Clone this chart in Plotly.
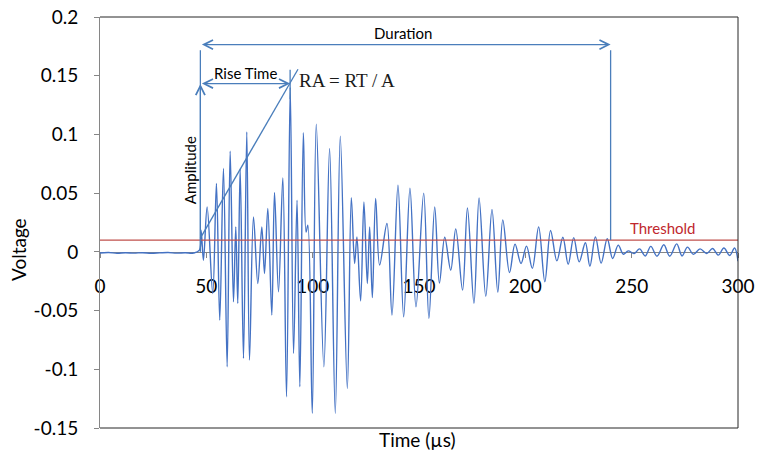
import plotly.graph_objects as go

# ---------------- data ----------------
pre_t = [0, 4, 8, 12, 16, 20, 24, 28, 32, 36, 40, 44]
pre_v = [-0.0010, -0.0006, -0.0012, -0.0008, -0.0011, -0.0007, -0.0012, -0.0009,
         -0.0006, -0.0011, -0.0008, -0.0010]

wave_t = [46.75, 47.55, 48.63, 50.38, 53.01, 54.75, 56.31, 58.05, 59.79, 61.20,
          62.76, 63.84, 64.78, 65.91, 67.47, 69.02, 70.29, 72.17, 74.20, 76.08,
          77.35, 78.91, 80.79, 82.06, 83.94, 85.97, 87.71, 89.45, 91.01, 92.65,
          93.97, 95.62, 96.89, 97.74, 99.81, 101.69, 105.27, 107.96, 110.64, 112.99,
          116.29, 118.17, 119.72, 120.81, 122.55, 124.10, 125.70, 126.79, 128.06, 129.61,
          131.49, 134.93, 137.29, 140.11, 142.79, 145.76, 148.58, 152.21, 154.66, 157.39,
          159.60, 162.10, 164.92, 167.28, 170.48, 172.78, 175.84, 178.25, 181.40, 184.32,
          187.05, 189.40, 192.56, 195.15, 197.97, 200.56, 203.29, 206.26, 209.18, 211.86,
          214.83, 217.65, 220.15, 222.74, 225.33, 228.24, 230.36, 232.95, 235.64, 238.51,
          241.05, 243.69, 246.04, 248.39, 251.17, 253.71, 256.40, 258.99, 261.91, 265.11,
          267.89, 271.18, 273.68, 276.26, 279.00, 282.15, 285.31, 288.04, 290.77, 293.35,
          296.13, 298.39, 300.0]
wave_v = [0.0014, 0.0185, -0.0071, 0.0383, -0.0354, 0.0582, -0.0581, 0.0710, -0.0979, 0.0857,
          -0.0426, 0.0213, -0.0439, 0.0710, -0.0907, 0.1021, -0.0922, 0.0298, -0.0269, 0.0213,
          -0.0184, 0.0369, -0.0539, 0.0506, -0.0340, 0.0630, -0.1234, 0.1400, -0.0865, 0.0440,
          -0.1149, 0.1014, 0.0168, 0.0227, -0.1375, 0.1087, -0.0979, 0.0880, -0.1375, 0.0985,
          -0.1163, 0.0461, -0.0099, 0.0128, -0.0418, 0.0426, -0.0269, 0.0213, -0.0390, 0.0454,
          -0.0113, 0.0242, -0.0539, 0.0568, -0.0553, 0.0542, -0.0468, 0.0500, -0.0567, 0.0383,
          -0.0266, 0.0125, -0.0156, 0.0196, -0.0326, 0.0374, -0.0439, 0.0460, -0.0379, 0.0362,
          -0.0343, 0.0272, -0.0177, 0.0066, -0.0099, 0.0049, -0.0141, 0.0213, -0.0255, 0.0182,
          -0.0077, 0.0125, -0.0106, 0.0121, -0.0085, 0.0077, -0.0122, 0.0128, -0.0096, 0.0111,
          -0.0056, 0.0057, -0.0020, 0.0008, -0.0014, 0.0025, -0.0035, 0.0047, -0.0037, 0.0060,
          -0.0037, 0.0068, -0.0035, 0.0040, -0.0021, 0.0025, -0.0014, 0.0029, -0.0028, 0.0033,
          -0.0031, 0.0033, -0.0079]

threshold = 0.01
first_crossing = 47.2      # µs
peak_time = 89.4           # µs
peak_amplitude = 0.143     # V
duration_end = 240.1       # µs

x_ticks = [0, 50, 100, 150, 200, 250, 300]
y_ticks = [0.2, 0.15, 0.1, 0.05, 0, -0.05, -0.1, -0.15]
y_tick_text = ["0.2", "0.15", "0.1", "0.05", "0", "-0.05", "-0.1", "-0.15"]

# ---------------- figure ----------------
FONT = "Lato"
BLUE = "#4472C4"
SHAPE_BLUE = "#4A7EBB"
GRAY = "#868686"

fig = go.Figure()
fig.add_trace(go.Scatter(
    x=pre_t + wave_t, y=pre_v + wave_v, mode="lines",
    line=dict(color=BLUE, width=1.4, shape="spline", smoothing=1.0),
    hoverinfo="skip", showlegend=False))

fig.add_trace(go.Scatter(
    x=[x_ticks[0], x_ticks[-1]], y=[threshold, threshold], mode="lines",
    line=dict(color="#C0504D", width=1.2), hoverinfo="skip", showlegend=False))

dur_y = 0.1765
rise_y = 0.1433
vtop = 0.1717

shapes = [
    dict(type="path", xref="paper", yref="paper", path="M 0 1 L 1 1 L 1 0 L 0 0",
         line=dict(color="#262626", width=1)),
    dict(type="line", xref="x", yref="y", x0=first_crossing, x1=first_crossing, y0=0, y1=vtop,
         line=dict(color=SHAPE_BLUE, width=1.3)),
    dict(type="line", xref="x", yref="y", x0=duration_end, x1=duration_end, y0=threshold, y1=vtop,
         line=dict(color=SHAPE_BLUE, width=1.3)),
    dict(type="line", xref="x", yref="y", x0=peak_time, x1=peak_time, y0=0.13, y1=0.155,
         line=dict(color=SHAPE_BLUE, width=1.3)),
    dict(type="line", xref="x", yref="y", x0=first_crossing, x1=93.1, y0=0.0117, y1=0.1555,
         line=dict(color=SHAPE_BLUE, width=1.3)),
]

arrow_common = dict(showarrow=True, text="", xref="x", yref="y", axref="x", ayref="y",
                    arrowcolor=SHAPE_BLUE, arrowwidth=1.2, arrowsize=1.5, arrowhead=5,
                    startarrowhead=5, startarrowsize=1.5)
annotations = [
    dict(x=duration_end, y=dur_y, ax=first_crossing, ay=dur_y, arrowside="end+start", **arrow_common),
    dict(x=peak_time, y=rise_y, ax=first_crossing, ay=rise_y, arrowside="end+start", **arrow_common),
    dict(x=first_crossing, y=peak_amplitude, ax=first_crossing, ay=0, arrowside="end", **arrow_common),
    dict(text="Duration", x=142.5, y=0.186, xref="x", yref="y", showarrow=False,
         font=dict(family=FONT, size=15, color="#000000")),
    dict(text="Rise Time", x=68.6, y=0.152, xref="x", yref="y", showarrow=False,
         font=dict(family=FONT, size=15, color="#000000")),
    dict(text="RA = RT / A", x=92.4, y=0.146, xref="x", yref="y", showarrow=False,
         xanchor="left", font=dict(family="Liberation Serif", size=19, color="#1a1a1a")),
    dict(text="Amplitude", x=42.3, y=0.0695, xref="x", yref="y", showarrow=False,
         textangle=-90, font=dict(family=FONT, size=15, color="#000000")),
    dict(text="Threshold", x=264.7, y=0.0202, xref="x", yref="y", showarrow=False,
         font=dict(family=FONT, size=15, color="#C0272D")),
    dict(text="Voltage", x=-0.1285, y=0.433, xref="paper", yref="paper", showarrow=False,
         xanchor="center", yanchor="middle",
         textangle=-90, font=dict(family=FONT, size=19, color="#000000")),
    dict(text="Time (µs)", x=0.498, y=-0.029, xref="paper", yref="paper", showarrow=False,
         xanchor="center", yanchor="middle",
         font=dict(family=FONT, size=19, color="#000000")),
]

fig.update_layout(
    template="none",
    width=759, height=458, autosize=False,
    margin=dict(l=100, r=21, t=17, b=30, pad=0, autoexpand=False),
    paper_bgcolor="white", plot_bgcolor="white",
    font=dict(family=FONT, size=19, color="#000000"),
    showlegend=False,
    shapes=shapes, annotations=annotations,
    xaxis=dict(range=[0, 300], tickvals=x_ticks, ticktext=[str(v) for v in x_ticks],
               anchor="free", position=0.15 / 0.35, automargin=False,
               showline=True, linecolor=GRAY, linewidth=1,
               ticks="outside", ticklen=5, tickcolor=GRAY, ticklabelstandoff=12,
               showgrid=False, zeroline=False, layer="below traces",
               tickfont=dict(family=FONT, size=19, color="#000000")),
    yaxis=dict(range=[-0.15, 0.2], tickvals=y_ticks, ticktext=y_tick_text, automargin=False,
               showline=True, linecolor=GRAY, linewidth=1,
               ticks="outside", ticklen=5, tickcolor=GRAY, ticklabelstandoff=12,
               showgrid=False, zeroline=False,
               tickfont=dict(family=FONT, size=19, color="#000000")),
)

fig.write_html("out.html", config={"responsive": False})
